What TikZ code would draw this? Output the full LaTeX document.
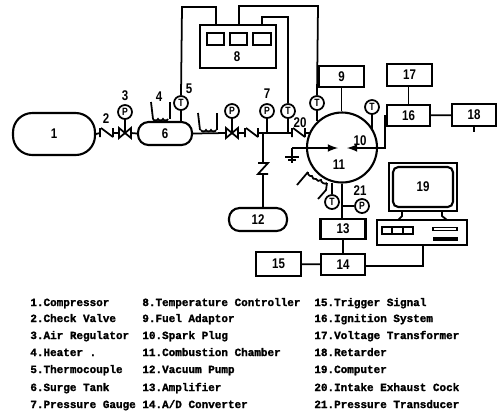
\documentclass[tikz,border=0pt]{standalone}
\usepackage{fontspec}
\newfontfamily\numfont[FakeStretch=0.82]{Liberation Sans}
\newfontfamily\legfont[BoldFeatures={FakeBold=1.5}]{Liberation Mono}
\tikzset{
    pipe/.style={line width=1pt},
    unit/.style={draw, line width=1.2pt, inner sep=0pt, font=\numfont\bfseries\fontsize{8}{9}\selectfont},
    gauge/.style={draw, circle, line width=1pt, fill=white, inner sep=0pt, minimum size=0.28cm, font=\numfont\bfseries\fontsize{6}{6}\selectfont},
    numlab/.style={inner sep=0pt, font=\numfont\bfseries\fontsize{8}{9}\selectfont},
    legendtxt/.style={anchor=base west, inner sep=0pt, font=\legfont\bfseries\fontsize{6.25}{7}\selectfont},
    valve/.pic={\draw[pipe, fill=white] (-6,-5) -- (6,5) -- (6,-5) -- (-6,5) -- cycle;},
    checkv/.pic={\draw[pipe] (0,-5) -- (0,4) (1,-5) -- (13,4) (13,-5) -- (13,4);},
    coil/.pic={\draw[pipe] (0,0) to[bend right=80] (5,0) to[bend right=80] (10,0) to[bend right=80] (15,0);}
}
\begin{document}
\begin{tikzpicture}[x=0.02cm, y=-0.02cm]
    \useasboundingbox (0,0) rectangle (500,414);
    % Serbatoi
    \node[unit, rounded corners=11pt, minimum width=1.64cm, minimum height=0.84cm] (comp) at (54,134) {1};
    \node[unit, rounded corners=6pt, minimum width=1.08cm, minimum height=0.46cm] (tank) at (165,133.5) {6};
    \node[unit, rounded corners=6pt, minimum width=1.16cm, minimum height=0.46cm] (vac) at (258,219.5) {12};
    % Blocchi
    \node[unit, minimum width=1.52cm, minimum height=0.86cm] (ctrl) at (238,46.5) {};
    \node[unit, minimum width=0.34cm, minimum height=0.24cm] (ctrla) at (215.5,39) {};
    \node[unit, minimum width=0.34cm, minimum height=0.24cm] (ctrlb) at (238.5,39) {};
    \node[unit, minimum width=0.36cm, minimum height=0.24cm] (ctrlc) at (262,39) {};
    \node[numlab] (lab8) at (237,57) {8};
    \node[unit, minimum width=0.9cm, minimum height=0.42cm] (fuel) at (341.5,76.5) {9};
    \node[unit, minimum width=0.86cm, minimum height=0.42cm] (ign) at (408.5,115.5) {16};
    \node[unit, minimum width=0.9cm, minimum height=0.44cm] (volt) at (409.5,75) {17};
    \node[unit, minimum width=0.88cm, minimum height=0.44cm] (ret) at (474,115) {18};
    \node[unit, minimum width=0.9cm, minimum height=0.4cm] (amp) at (343,229) {13};
    \node[unit, minimum width=0.88cm, minimum height=0.42cm] (adc) at (343,264.5) {14};
    \node[unit, minimum width=0.9cm, minimum height=0.48cm] (trig) at (278.5,264) {15};
    % Camera
    \node[unit, circle, minimum size=1.4cm] (cham) at (342,147.5) {};
    \node[numlab] (lab11) at (339,165) {11};
    % Computer
    \node[unit, minimum width=1.36cm, minimum height=0.96cm] (mon) at (423,187) {};
    \node[unit, rounded corners=3pt, minimum width=1.2cm, minimum height=0.8cm] (scr) at (423,187) {19};
    \node[unit, minimum width=1.8cm, minimum height=0.5cm] (base) at (422,232.5) {};
    \node[unit, line width=0.9pt, minimum width=0.2cm, minimum height=0.13cm] (slota) at (387,230.5) {};
    \node[unit, line width=0.9pt, minimum width=0.2cm, minimum height=0.13cm] (slotb) at (397.5,230.5) {};
    \node[unit, line width=0.9pt, minimum width=0.2cm, minimum height=0.13cm] (slotc) at (408,230.5) {};
    \node[unit, line width=0.8pt, minimum width=0.48cm, minimum height=0.06cm] (slotd) at (445,229) {};
    \coordinate (slote) at (433,239);
    \coordinate (slotf) at (458,239);
    \draw[line width=1.8pt] (slote) -- (slotf);
    \draw[pipe] (402,211) -- (402,216) -- (398,220);
    \draw[pipe] (442,211) -- (442,216) -- (447,220);
    % Strumenti
    \node[gauge] (p3) at (125,112) {P};
    \node[gauge] (t5) at (181,103) {T};
    \node[gauge] (p4) at (232,111) {P};
    \node[gauge] (p7) at (267,111) {P};
    \node[gauge] (t8) at (288,111) {T};
    \node[gauge] (t9) at (317,103) {T};
    \node[gauge] (t10) at (372,107) {T};
    \node[gauge] (t11) at (332,202) {T};
    \node[gauge] (p21) at (362,206) {P};
    % Numeri
    \node[numlab] (lab2) at (106,119) {2};
    \node[numlab] (lab3) at (125,96) {3};
    \node[numlab] (lab4) at (159,97) {4};
    \node[numlab] (lab5) at (189,89) {5};
    \node[numlab] (lab7) at (267,94) {7};
    \node[numlab] (lab20) at (300,123) {20};
    \node[numlab] (lab10) at (360,141) {10};
    \node[numlab] (lab21) at (360,191) {21};
    % Punti del condotto
    \coordinate (cvl) at (100,133);
    \coordinate (cvr) at (113,133);
    \coordinate (vall) at (119,133);
    \coordinate (valr) at (131,133);
    \coordinate (vbl) at (226,133);
    \coordinate (vbr) at (238,133);
    \coordinate (cbl) at (245,133);
    \coordinate (cbr) at (258,133);
    \coordinate (junc) at (263,133);
    \coordinate (p7f) at (267,133);
    \coordinate (t8f) at (288,133);
    \coordinate (ccl) at (292,133);
    \coordinate (ccr) at (305,133);
    \coordinate (camin) at (310,133);
    \coordinate (p3f) at (125,133);
    \coordinate (p4f) at (232,133);
    \coordinate (zt) at (263,163);
    \coordinate (zb) at (263,174);
    % Condotto
    \draw[pipe] (comp.east) -- (cvl);
    \draw[pipe] (cvr) -- (vall);
    \draw[pipe] (valr) -- (tank.west);
    \draw[pipe] (tank.east) -- (vbl);
    \draw[pipe] (vbr) -- (cbl);
    \draw[pipe] (cbr) -- (ccl);
    \draw[pipe] (ccr) -- (camin);
    \draw[pipe] (p3) -- (p3f);
    \draw[pipe] (p4) -- (p4f);
    \draw[pipe] (p7) -- (p7f);
    \draw[pipe] (t8) -- (t8f);
    \draw[pipe] (junc) -- (zt) -- (258,163) -- (268,163) -- (258,174) -- (268,174) -- (zb) -- (vac.north -| zb);
    \pic at (100,133) {checkv};
    \pic at (245,133) {checkv};
    \pic at (292,133) {checkv};
    \pic at (125,133) {valve};
    \pic at (232,133) {valve};
    % Riscaldatori
    \draw[pipe] (151,102) -- (153,119);
    \draw[pipe] (170,102) -- (170,119);
    \pic at (153,119) {coil};
    \draw[pipe] (198,113) -- (200,130);
    \draw[pipe] (217,113) -- (217,130);
    \pic at (201,130) {coil};
    \draw[pipe] (297,185) -- (308,172);
    \draw[pipe] (308,172) to[bend right=70] (312,176) to[bend right=70] (316,179) to[bend right=70] (321,180) to[bend right=70] (327,183);
    \draw[pipe] (327,183) -- (326,190) -- (318,199);
    % Fili del controllore
    \draw[pipe] (t5.south) -- (t5.south |- tank.north);
    \draw[pipe] (t5.north) -- (182,7) -- (216,7) -- (ctrl.north -| 216,0);
    \draw[pipe] (ctrl.north -| 239,0) -- (239,6) -- (318,6) -- (t9.north);
    \draw[pipe] (ctrl.north -| 262,0) -- (262,17) -- (288,17) -- (t8.north);
    \draw[pipe] (t9.south) -- (317,121);
    \draw[pipe] (t10.south) -- (372,129);
    % Collegamenti
    \draw[pipe] (fuel) -- (cham.north -| fuel);
    \draw[pipe] (volt.south -| ign) -- (ign.north);
    \draw[pipe] (ign) -- (ret);
    \draw[pipe] (ret.south) -- ++(0,5);
    \draw[pipe] (cham.south) -- (amp.north -| cham);
    \draw[pipe] (amp) -- (adc);
    \draw[pipe] (trig) -- (adc);
    \draw[pipe] (p21) -- (p21 -| cham);
    \draw[pipe] (t11) -- (332,183);
    \draw[pipe] (base.south -| 423,0) -- (423,266) -- (adc.east |- 423,266);
    % Candela
    \coordinate (gnd) at (292,148);
    \coordinate (sparkl) at (338,148);
    \coordinate (sparkb) at (385,148);
    \coordinate (sparkr) at (347,148);
    \draw[pipe, -latex] (gnd) -- (sparkl);
    \draw[pipe, -latex] (ign.west) -| (sparkb) -- (sparkr);
    \draw[pipe] (gnd) -- (292,163) (285,157) -- (299,157) (288,160) -- (296,160);
    % Legenda
    \foreach \n/\y/\t in {1/306/1.Compressor, 2/322/2.Check Valve, 3/339/3.Air Regulator, 4/356/4.Heater ., 5/373/5.Thermocouple, 6/391/6.Surge Tank, 7/408/7.Pressure Gauge}
        \node[legendtxt] (leg\n) at (30,\y) {\t};
    \foreach \n/\y/\t in {8/306/8.Temperature Controller, 9/322/9.Fuel Adaptor, 10/339/10.Spark Plug, 11/356/11.Combustion Chamber, 12/373/12.Vacuum Pump, 13/391/13.Amplifier, 14/408/{14.A/D Converter}}
        \node[legendtxt] (leg\n) at (142,\y) {\t};
    \foreach \n/\y/\t in {15/306/15.Trigger Signal, 16/322/16.Ignition System, 17/339/17.Voltage Transformer, 18/356/18.Retarder, 19/373/19.Computer, 20/391/20.Intake Exhaust Cock, 21/408/21.Pressure Transducer}
        \node[legendtxt] (leg\n) at (314,\y) {\t};
\end{tikzpicture}
\end{document}
